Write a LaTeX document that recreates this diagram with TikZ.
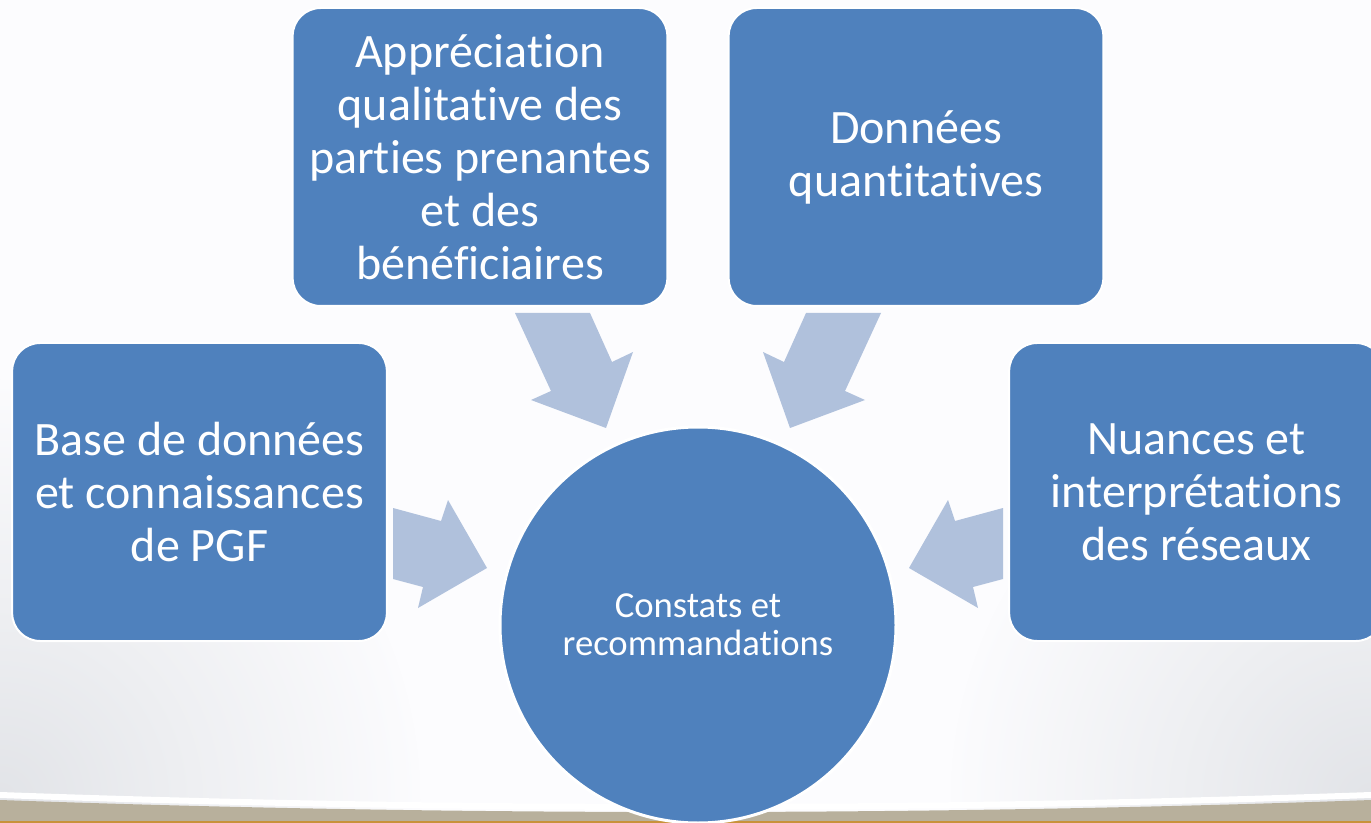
\documentclass[tikz,border=0pt]{standalone}
\usepackage{fontspec}
\setmainfont{Carlito}[Ligatures=NoCommon]
\definecolor{bgc}{HTML}{FCFCFE}
\definecolor{boxblue}{HTML}{4F81BD}
\definecolor{arrowblue}{HTML}{B0C1DC}
\definecolor{tanc}{HTML}{B8B09C}
\definecolor{orangec}{HTML}{C8923A}
\pgfdeclareradialshading{cornergray}{\pgfpoint{0bp}{0bp}}{rgb(0bp)=(0.885,0.892,0.908); rgb(12bp)=(0.935,0.939,0.950); rgb(26bp)=(0.988,0.988,0.996); rgb(50bp)=(0.988,0.988,0.996)}
\tikzset{
  boxnode/.style={draw=white, line width=1.5pt, fill=boxblue, rounded corners=21pt,
    minimum width=281pt, minimum height=223.5pt, align=center, text=white,
    font=\fontsize{36pt}{39.75pt}\selectfont, inner sep=0pt},
  hubnode/.style={circle, draw=white, line width=2.25pt, fill=boxblue, minimum size=297pt,
    align=center, text=white, font=\fontsize{27.5pt}{28.5pt}\selectfont, inner sep=0pt},
  blockarrow/.style={fill=arrowblue}
}
\begin{document}
\begin{tikzpicture}[x=0.75pt, y=-0.75pt]
\useasboundingbox (0,0) rectangle (1371,823);
\fill[bgc] (0,0) rectangle (1371,823);
\begin{scope}
  \clip (0,0) rectangle (1371,823);
  \shade[shading=cornergray] (0,800) circle (420);
  \shade[shading=cornergray] (1371,800) circle (420);
  \draw[white, line width=4.5pt] (0,795) .. controls (450,811) and (920,811) .. (1371,795);
  \fill[tanc] (0,800) .. controls (450,816) and (920,816) .. (1371,800) -- (1371,823) -- (0,823) -- cycle;
  \fill[orangec] (0,821) rectangle (1371,823);
\end{scope}

% block arrows
\fill[blockarrow] (515,313) -- (590,313) -- (612,362) -- (633,352) -- (606,428) -- (531,400) -- (551,391) -- cycle;
\fill[blockarrow] (881,313) -- (806,313) -- (784,362) -- (763,352) -- (790,428) -- (865,400) -- (845,391) -- cycle;
\fill[blockarrow] (393,508) -- (441,521) -- (448,500) -- (487,568) -- (418,608) -- (423,587) -- (393,579) -- cycle;
\fill[blockarrow] (1003,508) -- (955,521) -- (948,500) -- (909,568) -- (978,608) -- (973,587) -- (1003,579) -- cycle;

\begin{scope}
\clip (0,0) rectangle (1371,823);
\node[hubnode] (hub) at (698,625) {Constats et\\recommandations};
\node[boxnode] (left) at (199.5,492) {Base de données\\et connaissances\\de PGF};
\node[boxnode] (topl) at (480,157) {Appréciation\\qualitative des\\parties prenantes\\et des\\bénéficiaires};
\node[boxnode] (topr) at (916,157) {Données\\quantitatives};
\node[boxnode] (right) at (1196.5,492) {Nuances et\\interprétations\\des réseaux};
\end{scope}
\end{tikzpicture}
\end{document}
